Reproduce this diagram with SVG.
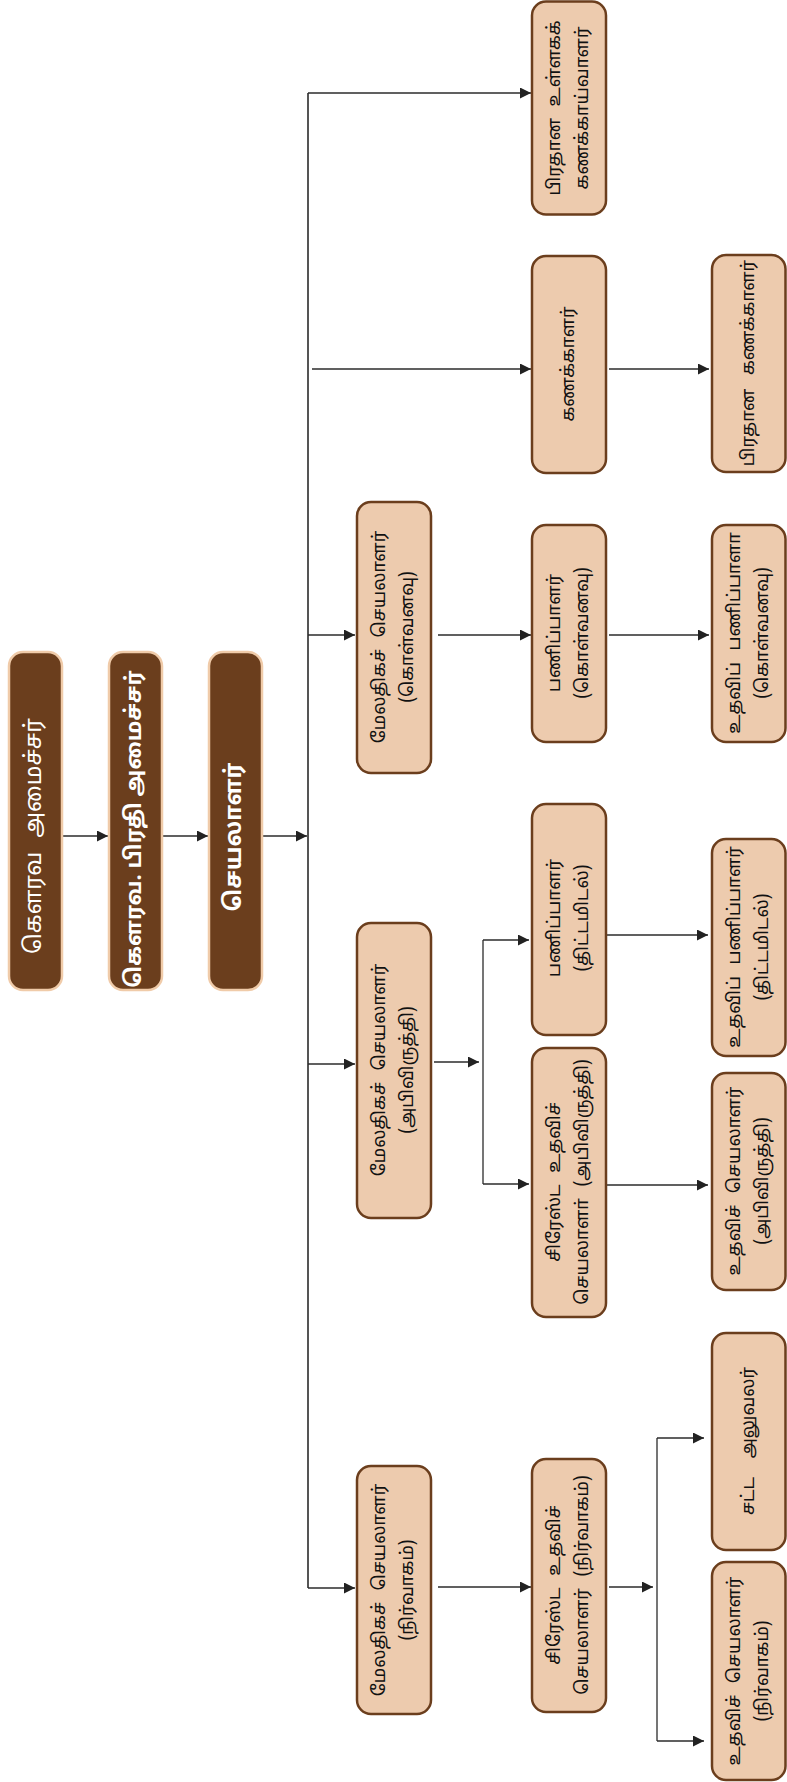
<svg xmlns="http://www.w3.org/2000/svg" width="787" height="1782" viewBox="0 0 787 1782">
<style>
.dark{fill:#6b3e1d;stroke:#f0cba9;stroke-width:2.5}
.lite{fill:#edcbae;stroke:#6b3e1d;stroke-width:2.5}
.dt{fill:#ffffff;font-family:"Noto Sans Tamil","Noto Sans","Liberation Sans",sans-serif;font-size:23px;text-anchor:middle;dominant-baseline:central;word-spacing:8px}
.lt{fill:#111;font-family:"Noto Sans Tamil","Noto Sans","Liberation Sans",sans-serif;font-size:18px;text-anchor:middle;dominant-baseline:central;word-spacing:7px}
.b{font-weight:bold}
.c{fill:none;stroke:#2b2b2b;stroke-width:1.3}
.trunk{fill:none;stroke:#555;stroke-width:2}
</style>
<defs>
<marker id="ah" markerWidth="11" markerHeight="11" refX="11" refY="5.5" orient="auto" markerUnits="userSpaceOnUse">
<path d="M0,0 L11,5.5 L0,11 z" fill="#222"/>
</marker>
</defs>
<g id="connectors">
<path class="c" d="M62,836 H108" marker-end="url(#ah)"/>
<path class="c" d="M162,836 H208" marker-end="url(#ah)"/>
<path class="c" d="M262,836 H307" marker-end="url(#ah)"/>
<path class="trunk" d="M308,93 V1588"/>
<path class="c" d="M308,93 H531" marker-end="url(#ah)"/>
<path class="c" d="M312,369 H531" marker-end="url(#ah)"/>
<path class="c" d="M609,369 H709" marker-end="url(#ah)"/>
<path class="c" d="M308,635 H355" marker-end="url(#ah)"/>
<path class="c" d="M438,635 H531" marker-end="url(#ah)"/>
<path class="c" d="M609,635 H709" marker-end="url(#ah)"/>
<path class="c" d="M308,1064 H355" marker-end="url(#ah)"/>
<path class="c" d="M434,1062 H479" marker-end="url(#ah)"/>
<path class="c" d="M483,940 V1184"/>
<path class="c" d="M483,940 H529" marker-end="url(#ah)"/>
<path class="c" d="M483,1184 H529" marker-end="url(#ah)"/>
<path class="c" d="M606,935 H708" marker-end="url(#ah)"/>
<path class="c" d="M606,1185 H708" marker-end="url(#ah)"/>
<path class="c" d="M308,1588 H355" marker-end="url(#ah)"/>
<path class="c" d="M438,1587 H531" marker-end="url(#ah)"/>
<path class="c" d="M609,1587 H653" marker-end="url(#ah)"/>
<path class="c" d="M657,1438 V1741"/>
<path class="c" d="M657,1438 H704" marker-end="url(#ah)"/>
<path class="c" d="M657,1741 H704" marker-end="url(#ah)"/>
</g>
<g id="minister">
<rect class="dark" x="9" y="652" width="53" height="338" rx="14"/>
<text class="dt" transform="translate(35.5,836) rotate(-90)">கௌரவ அமைச்சர்</text>
</g>
<g id="deputy-minister">
<rect class="dark" x="109" y="652" width="53" height="338" rx="14"/>
<text class="dt b" transform="translate(135.5,829) rotate(-90)" style="word-spacing:0px;font-size:22px">கௌரவ. பிரதி அமைச்சர்</text>
</g>
<g id="secretary">
<rect class="dark" x="209" y="652" width="53" height="338" rx="14"/>
<text class="dt b" transform="translate(235.5,837) rotate(-90)">செயலாளர்</text>
</g>
<g id="addl-sec-procurement">
<rect class="lite" x="357" y="502" width="74" height="271" rx="14"/>
<text class="lt" transform="translate(394,637) rotate(-90)"><tspan x="0" y="-14">மேலதிகச் செயலாளர்</tspan><tspan x="0" y="14">(கொள்வனவு)</tspan></text>
</g>
<g id="addl-sec-development">
<rect class="lite" x="357" y="923" width="74" height="295" rx="14"/>
<text class="lt" transform="translate(394,1070) rotate(-90)"><tspan x="0" y="-14">மேலதிகச் செயலாளர்</tspan><tspan x="0" y="14">(அபிவிருத்தி)</tspan></text>
</g>
<g id="addl-sec-admin">
<rect class="lite" x="357" y="1466" width="74" height="248" rx="14"/>
<text class="lt" transform="translate(394,1590) rotate(-90)"><tspan x="0" y="-14">மேலதிகச் செயலாளர்</tspan><tspan x="0" y="14">(நிர்வாகம்)</tspan></text>
</g>
<g id="chief-internal-auditor">
<rect class="lite" x="532" y="1.5" width="74" height="213" rx="14"/>
<text class="lt" transform="translate(569,108) rotate(-90)"><tspan x="0" y="-14">பிரதான உள்ளகக்</tspan><tspan x="0" y="14">கணக்காய்வாளர்</tspan></text>
</g>
<g id="accountant">
<rect class="lite" x="532" y="256" width="74" height="217" rx="14"/>
<text class="lt" transform="translate(569,364) rotate(-90)">கணக்காளர்</text>
</g>
<g id="director-procurement">
<rect class="lite" x="532" y="525" width="74" height="217" rx="14"/>
<text class="lt" transform="translate(569,633) rotate(-90)"><tspan x="0" y="-14">பணிப்பாளர்</tspan><tspan x="0" y="14">(கொள்வனவு)</tspan></text>
</g>
<g id="director-planning">
<rect class="lite" x="532" y="804" width="74" height="231" rx="14"/>
<text class="lt" transform="translate(569,918) rotate(-90)"><tspan x="0" y="-14">பணிப்பாளர்</tspan><tspan x="0" y="14">(திட்டமிடல்)</tspan></text>
</g>
<g id="senior-asst-sec-development">
<rect class="lite" x="532" y="1048" width="74" height="269" rx="14"/>
<text class="lt" transform="translate(569,1182) rotate(-90)"><tspan x="0" y="-14">சிரேஸ்ட உதவிச்</tspan><tspan x="0" y="14">செயலாளா் (அபிவிருத்தி)</tspan></text>
</g>
<g id="senior-asst-sec-admin">
<rect class="lite" x="532" y="1459" width="74" height="253" rx="14"/>
<text class="lt" transform="translate(569,1585) rotate(-90)"><tspan x="0" y="-14">சிரேஸ்ட உதவிச்</tspan><tspan x="0" y="14">செயலாளர் (நிர்வாகம்)</tspan></text>
</g>
<g id="chief-accountant">
<rect class="lite" x="712" y="255" width="73.5" height="217" rx="14"/>
<text class="lt" transform="translate(749,363) rotate(-90)" style="word-spacing:9px">பிரதான கணக்காளர்</text>
</g>
<g id="asst-director-procurement">
<rect class="lite" x="712" y="525" width="73.5" height="217" rx="14"/>
<text class="lt" transform="translate(749,633) rotate(-90)"><tspan x="0" y="-14">உதவிப் பணிப்பாளா</tspan><tspan x="0" y="14">(கொள்வனவு)</tspan></text>
</g>
<g id="asst-director-planning">
<rect class="lite" x="712" y="839" width="73.5" height="217" rx="14"/>
<text class="lt" transform="translate(749,947) rotate(-90)"><tspan x="0" y="-14">உதவிப் பணிப்பாளர்</tspan><tspan x="0" y="14">(திட்டமிடல்)</tspan></text>
</g>
<g id="asst-sec-development">
<rect class="lite" x="712" y="1073" width="73.5" height="217" rx="14"/>
<text class="lt" transform="translate(749,1181) rotate(-90)"><tspan x="0" y="-14">உதவிச் செயலாளர்</tspan><tspan x="0" y="14">(அபிவிருத்தி)</tspan></text>
</g>
<g id="legal-officer">
<rect class="lite" x="712" y="1333" width="73.5" height="217" rx="14"/>
<text class="lt" transform="translate(749,1441) rotate(-90)" style="word-spacing:14px">சட்ட அலுவலர்</text>
</g>
<g id="asst-sec-admin">
<rect class="lite" x="712" y="1562" width="73.5" height="218" rx="14"/>
<text class="lt" transform="translate(749,1671) rotate(-90)"><tspan x="0" y="-14">உதவிச் செயலாளர்</tspan><tspan x="0" y="14">(நிர்வாகம்)</tspan></text>
</g>
</svg>
